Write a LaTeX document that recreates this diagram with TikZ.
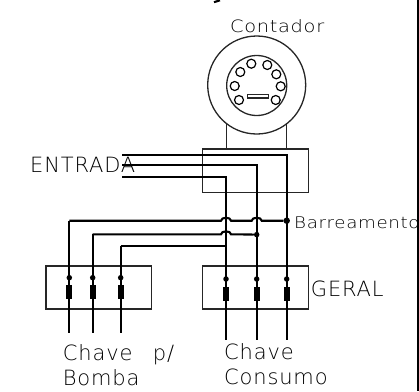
\documentclass[tikz,border=0pt]{standalone}
\usepackage{fontspec}
\newfontface\cadfont{DejaVu Sans ExtraLight}[LetterSpace=4]
\newfontface\cadlargo{DejaVu Sans ExtraLight}[LetterSpace=4, FakeStretch=1.14]

\tikzset{
    fio/.style={line width=2.1pt},
    fino/.style={line width=1.3pt, black!85},
    pino/.style={draw, circle, line width=1.2pt, inner sep=0pt, minimum size=9pt},
    caixa/.style={draw, line width=1.3pt, black!85, inner sep=0pt},
    borne/.style={circle, fill=black, inner sep=0pt, minimum size=5.5pt},
    fusivel/.style={fill=black, inner sep=0pt, minimum width=6pt, minimum height=14pt},
    texto/.style={anchor=base west, inner sep=0pt, font=\cadfont\fontsize{21}{21}\selectfont, black},
    textinho/.style={anchor=base west, inner sep=0pt, font=\cadlargo\fontsize{17}{17}\selectfont, black},
}

\begin{document}
\begin{tikzpicture}[x=1pt, y=-1pt]

    \useasboundingbox (0, 0) rectangle (419, 391);

    % medidor
    \node[draw, circle, fino, inner sep=0pt, minimum size=98pt] (contador) at (256.7, 85) {};
    \node[draw, circle, fino, inner sep=0pt, minimum size=60pt] (visor) at (256.7, 85.5) {};
    \foreach \x/\y [count=\n] in {251.3/63.7, 267.3/65, 276.3/74.3, 280.7/86.3, 275.7/100, 239/100, 234.7/86, 240.3/72}
        \node[pino] (pino\n) at (\x, \y) {};
    \node[draw, fino, inner sep=0pt, minimum width=20.5pt, minimum height=3.7pt] (mostrador) at (258, 96.2) {};

    \node[caixa, minimum width=106pt, minimum height=43.3pt] (medicao) at (255.7, 170.7) {};
    \node[caixa, minimum width=105.7pt, minimum height=43pt] (bomba) at (98.8, 287.5) {};
    \node[caixa, minimum width=106pt, minimum height=43pt] (geral) at (255.7, 287.5) {};

    \coordinate (hasteA) at (226.3, 123);
    \coordinate (hasteB) at (286.3, 123);
    \draw[fino] (hasteA) -- (hasteA |- medicao.north);
    \draw[fino] (hasteB) -- (hasteB |- medicao.north);

    % entrada
    \foreach \n/\y/\x in {a/154.7/286.7, b/165.3/256.7, c/177.3/226} {
        \coordinate (ent\n) at (122.3, \y);
        \coordinate (cnt\n) at (\x, \y);
        \coordinate (fim\n) at (\x, 340);
        \draw[fio] (ent\n) -- (cnt\n) -- (fim\n);
    }

    % saidas da bomba
    \foreach \n/\x/\y in {d/69.3/220.7, e/92.7/234.3, f/120.7/246} {
        \coordinate (sai\n) at (\x, \y);
        \coordinate (fim\n) at (\x, 332.7);
        \draw[fio] (sai\n) -- (fim\n);
    }

    % barramento com os saltos
    \coordinate (s1) at (221, 220.7);
    \coordinate (s2) at (231, 220.7);
    \coordinate (s3) at (251.7, 220.7);
    \coordinate (s4) at (261.7, 220.7);
    \coordinate (s5) at (221, 234.3);
    \coordinate (s6) at (231, 234.3);
    \node[borne, minimum size=6.5pt] (barra) at (286.7, 220.7) {};
    \node[borne] (barrab) at (256.7, 234.6) {};
    \coordinate (barrac) at (226, 246);
    \draw[fio] (said) -- (s1) to[bend left=90] (s2) -- (s3) to[bend left=90] (s4) -- (barra);
    \draw[fio] (saie) -- (s5) to[bend left=90] (s6) -- (barrab);
    \draw[fio] (saif) -- (barrac);

    % fusiveis
    \foreach \n/\x/\y in {1/69.3/277.7, 2/92.7/277.7, 3/120.7/277.7, 4/226/279, 5/256.7/279, 6/286.7/279} {
        \node[borne] (borne\n) at (\x, \y) {};
        \node[fusivel] (fus\n) at (\x, \y+14.5) {};
    }

    \node[textinho] (tcontador) at (230, 32.7) {Contador};
    \node[texto] (tentrada) at (30, 172.3) {ENTRADA};
    \node[texto] (tgeral) at (310.7, 296.7) {GERAL};
    \node[texto] (tchaveb) at (62.7, 360) {Chave\hspace*{13pt} p/};
    \node[texto] (tbomba) at (62.7, 385) {Bomba};
    \node[texto] (tchavec) at (224, 359.3) {Chave};
    \node[texto] (tconsumo) at (224, 384.3) {Consumo};
    \begin{scope}
        \clip (290, 200) rectangle (418, 240);
        \node[textinho] (tbarra) at (294, 228.3) {\fontsize{16}{16}\selectfont Barreamento};
    \end{scope}

    % borda e resto da letra no topo
    \coordinate (bordaA) at (418, 0);
    \coordinate (bordaB) at (418, 391);
    \draw[fio, line width=1.4pt] (bordaA) -- (bordaB);
    \coordinate (restoA) at (214, 2.2);
    \coordinate (restoB) at (220, 0.3);
    \draw[fio] (restoA) -- (restoB);

\end{tikzpicture}
\end{document}
